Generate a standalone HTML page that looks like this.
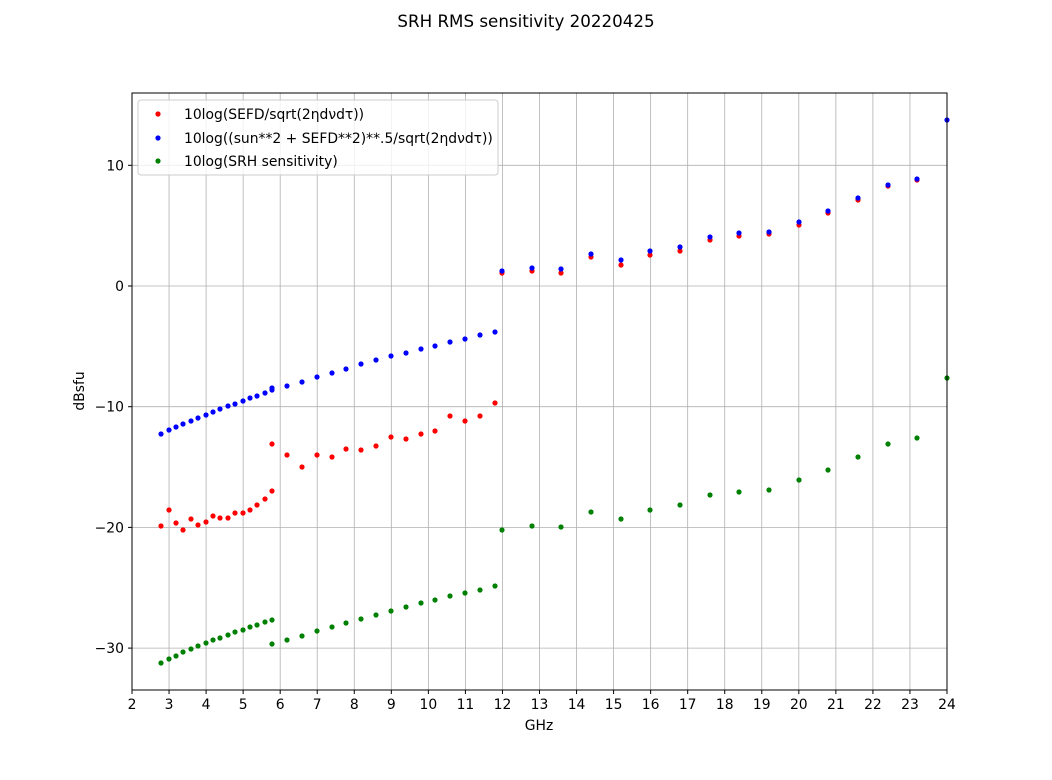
<!DOCTYPE html>
<html><head><meta charset="utf-8"><style>
body{margin:0;background:#fff}
svg text{font-family:"DejaVu Sans","Liberation Sans",sans-serif;fill:#000}
</style></head><body>
<svg id="s" width="1052" height="775" xmlns="http://www.w3.org/2000/svg">
<rect width="1052" height="775" fill="#fff"/>
<text x="526" y="27" font-size="16.7" text-anchor="middle">SRH RMS sensitivity 20220425</text>
<g id="grid" stroke="#b0b0b0" stroke-width="0.8"></g>
<g id="ticks" font-size="13.9"></g>
<g id="pts"></g>
<rect x="132" y="93" width="815" height="597" fill="none" stroke="#000" stroke-width="1"/>
<text x="539" y="730" font-size="13.9" text-anchor="middle">GHz</text>
<text x="0" y="0" font-size="13.9" text-anchor="middle" transform="translate(84,391) rotate(-90)">dBsfu</text>
<rect x="138" y="100" width="360" height="75" rx="3" fill="#fff" fill-opacity="0.8" stroke="#ccc"/>
<circle cx="158" cy="114" r="2.6" fill="red"/><text x="184" y="119" font-size="13.9">10log(SEFD/sqrt(2ηdνdτ))</text>
<circle cx="158" cy="138" r="2.6" fill="blue"/><text x="184" y="143" font-size="13.9">10log((sun**2 + SEFD**2)**.5/sqrt(2ηdνdτ))</text>
<circle cx="158" cy="161" r="2.6" fill="green"/><text x="184" y="166" font-size="13.9">10log(SRH sensitivity)</text>
</svg>
<script>
const NS="http://www.w3.org/2000/svg";
function el(p,t,a,txt){const e=document.createElementNS(NS,t);for(const k in a)e.setAttribute(k,a[k]);if(txt!==undefined)e.textContent=txt;document.getElementById(p).appendChild(e);}
const X=v=>132+(v-2)*815/22, Y=v=>286-12.07*v;
for(let g=2;g<=24;g++){const x=X(g);el('grid','line',{x1:x,x2:x,y1:93,y2:690});el('ticks','line',{x1:x,x2:x,y1:690,y2:694,stroke:'#000'});el('ticks','text',{x:x,y:709,'text-anchor':'middle'},g);}
for(const v of [10,0,-10,-20,-30]){const y=Y(v);el('grid','line',{x1:132,x2:947,y1:y,y2:y});el('ticks','line',{x1:128,x2:132,y1:y,y2:y,stroke:'#000'});el('ticks','text',{x:124,y:y+5,'text-anchor':'end'},v<0?'−'+(-v):v);}
const xs1=[161,169,176,183,191,198,206,213,220,228,235,243,250,257,265,272];
const xs2=[272,287,302,317,332,346,361,376,391,406,421,435,450,465,480,495];
const xs3=[502,532,561,591,621,650,680,710,739,769,799,828,858,888,917,947];
const red=[526,510,523,530,519,525,522,516,518,518,513,513,510,505,499,491,
444,455,467,455,457,449,450,446,437,439,434,431,416,421,416,403,
273,271,273,257,265,255,251,240,236,234,225,213,200,186,180];
const blue=[434,430,427,424,421,418,415,412,409,406,404,401,398,396,393,390,
388,386,382,377,373,369,364,360,356,353,349,346,342,339,335,332,
271,268,269,254,260,251,247,237,233,232,222,211,198,185,179,120];
const green=[663,659,656,652,649,646,643,640,638,635,632,630,627,625,622,620,
644,640,636,631,627,623,619,615,611,607,603,600,596,593,590,586,
530,526,527,512,519,510,505,495,492,490,480,470,457,444,438,378];
const xs=xs1.concat(xs2,xs3);
red.forEach((y,i)=>el('pts','circle',{cx:xs[i],cy:y,r:2.6,fill:'red'}));
blue.forEach((y,i)=>el('pts','circle',{cx:xs[i],cy:y,r:2.6,fill:'blue'}));
green.forEach((y,i)=>el('pts','circle',{cx:xs[i],cy:y,r:2.6,fill:'green'}));
</script>
</body></html>
